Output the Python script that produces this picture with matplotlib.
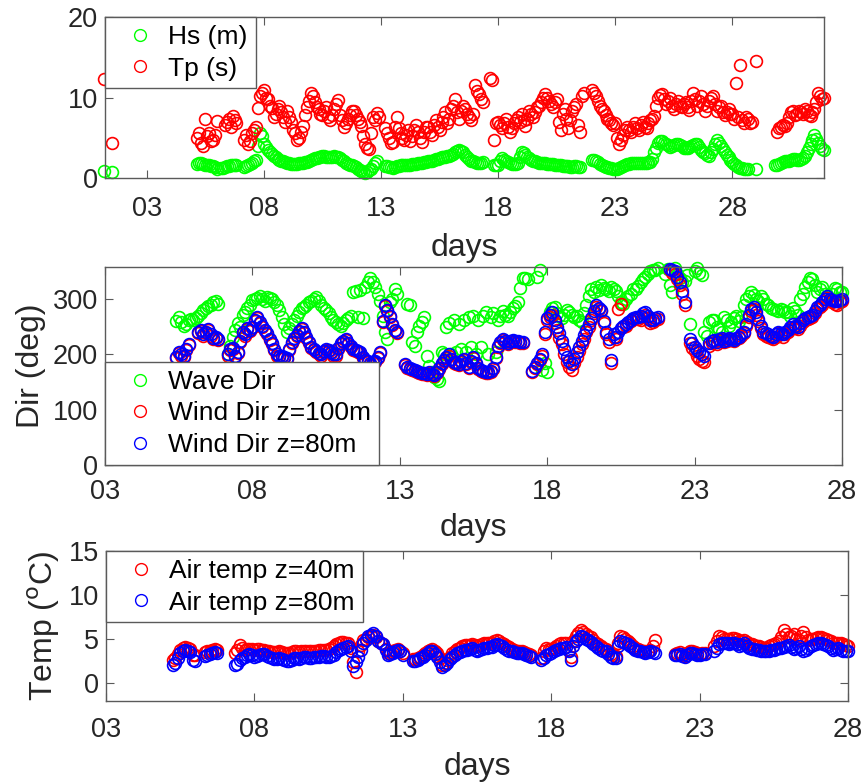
import numpy as np
import matplotlib
matplotlib.use("Agg")
import matplotlib.pyplot as plt

nan = np.nan

# top panel: 12 samples per day (2 h), first row is day 1
hs = [
    nan, nan, 0.9, nan, nan, nan, 0.8, nan, nan, nan, nan, nan,   # 1
    nan, nan, nan, nan, nan, nan, nan, nan, nan, nan, nan, nan,   # 2
    nan, nan, nan, nan, nan, nan, nan, nan, nan, nan, nan, nan,   # 3
    nan, nan, nan, nan, nan, nan, nan, nan, nan, nan, nan, nan,   # 4
    nan, nan, 1.8, 1.9, 1.9, 1.8, 1.7, 1.6, 1.6, 1.5, 1.5, 1.4,   # 5
    1.2, nan, 1.3, 1.3, 1.4, 1.5, 1.5, 1.6, 1.6, 1.7, 1.7, nan,   # 6
    nan, nan, 1.4, 1.5, 1.6, 1.8, 1.9, 2.1, 2.3, 4.0, 5.6, 5.2,   # 7
    4.3, 3.9, 3.5, 3.2, 3.0, 2.8, 2.6, 2.4, 2.3, 2.2, 2.1, 2.0,   # 8
    1.9, 1.9, 1.8, 1.8, 1.8, 1.8, 1.9, 1.9, 1.9, 2.0, 2.0, 2.1,   # 9
    2.3, 2.4, 2.5, 2.5, 2.6, 2.7, 2.8, 2.8, 2.7, 2.6, 2.6, 2.7,   # 10
    2.8, 2.7, 2.6, 2.5, 2.3, 2.1, 1.9, 1.8, 1.7, 1.6, 1.5, 1.4,   # 11
    1.2, 1.0, 0.9, 0.8, 0.7, 0.8, 1.0, 1.2, 1.5, 1.9, 2.2, nan,   # 12
    nan, nan, 1.5, 1.5, 1.4, 1.4, 1.3, 1.4, 1.5, 1.5, 1.6, 1.6,   # 13
    1.6, 1.7, 1.7, 1.7, 1.8, 1.8, 1.8, 1.9, 1.9, 1.9, 2.0, 2.0,   # 14
    2.1, 2.1, 2.2, 2.3, 2.4, 2.4, 2.5, 2.6, 2.7, 2.7, 2.8, 2.8,   # 15
    2.9, 3.0, 3.2, 3.4, 3.5, 3.4, 3.2, 2.9, 2.6, 2.4, 2.2, 2.1,   # 16
    2.0, 1.9, 1.9, 1.9, 2.0, nan, nan, nan, nan, nan, 1.6, 1.7,   # 17
    1.7, 2.1, 2.5, 2.3, 2.1, 2.0, 1.9, 1.8, 1.8, 1.8, 1.9, 2.6,   # 18
    3.3, 3.1, 2.9, 2.7, 2.5, 2.3, 2.2, 2.1, 2.0, 1.9, 1.9, 1.9,   # 19
    1.9, 1.8, 1.8, 1.8, 1.8, 1.7, 1.7, 1.6, 1.6, 1.5, 1.5, 1.5,   # 20
    1.5, 1.4, 1.4, 1.5, 1.5, 1.4, 1.4, nan, nan, nan, nan, nan,   # 21
    2.3, 2.3, 2.2, 2.0, 1.8, 1.6, 1.5, 1.4, 1.4, 1.3, 1.3, 1.2,   # 22
    1.2, 1.2, 1.3, 1.4, 1.5, 1.7, 1.8, 1.8, 1.9, 1.9, 1.9, 1.9,   # 23
    1.9, 1.9, 1.9, 1.9, 1.9, 2.0, 2.0, 2.4, 3.2, 3.8, 4.4, 4.6,   # 24
    4.6, 4.4, 4.3, 4.1, 3.9, 4.0, 4.1, 4.2, 4.2, 4.1, 4.0, 3.8,   # 25
    3.7, 3.8, 3.9, 4.0, 4.1, 4.2, 4.3, 3.9, 3.5, 3.3, 3.1, 2.9,   # 26
    2.8, 3.2, 3.6, 4.2, 4.7, 4.4, 4.0, 3.6, 3.3, 2.9, 2.6, 2.3,   # 27
    2.0, 1.8, 1.6, 1.4, 1.3, 1.3, 1.2, 1.2, 1.2, nan, nan, nan,   # 28
    1.1, nan, nan, nan, nan, nan, nan, nan, nan, nan, 1.7, 1.7,   # 29
    1.8, 1.9, 2.0, 2.1, 2.2, 2.2, 2.3, 2.4, 2.4, 2.3, 2.3, 2.4,   # 30
    2.5, 2.8, 3.2, 3.7, 4.2, 4.8, 5.4, 4.9, 4.4, 4.0, 3.6, 3.5,   # 31
]

tp = [
    nan, nan, 12.3, nan, nan, nan, 4.4, nan, nan, nan, nan, nan,         # 1
    nan, nan, nan, nan, nan, nan, nan, nan, nan, nan, nan, nan,          # 2
    nan, nan, nan, nan, nan, nan, nan, nan, nan, nan, nan, nan,          # 3
    nan, nan, nan, nan, nan, nan, nan, nan, nan, nan, nan, nan,          # 4
    nan, nan, 5.0, 5.6, 4.4, 4.0, 7.3, 5.2, 5.6, 4.6, 4.8, 5.4,          # 5
    7.1, nan, nan, nan, 6.6, 7.0, 7.4, 6.4, 7.7, 7.2, 6.9, nan,          # 6
    nan, nan, 4.8, 5.4, 4.2, 4.6, 5.6, 6.0, 6.3, 8.7, 10.2, 10.6,        # 7
    10.9, 10.0, 9.8, 9.0, 8.7, 7.6, 8.0, 8.6, 9.0, 8.2, 7.6, 7.0,        # 8
    8.4, 7.6, 7.0, 6.0, 5.6, 4.8, 5.0, 5.8, 6.5, 7.8, 8.8, 9.6,          # 9
    10.6, 10.2, 9.4, 8.8, 8.6, 8.0, 7.8, 8.4, 8.8, 7.6, 7.2, 7.8,        # 10
    8.6, 9.2, 9.7, 7.8, 7.2, 6.4, 6.8, 7.4, 7.9, 8.4, 8.3, 7.8,          # 11
    7.4, 7.0, 6.5, 5.2, 4.2, 3.8, 3.6, 5.6, 7.6, 7.2, 8.1, 7.6,          # 12
    nan, nan, 6.2, 5.6, 5.0, 4.4, 4.5, 6.4, 7.6, 6.2, 5.6, 5.0,          # 13
    4.8, 5.4, 6.0, 4.6, 5.2, 6.0, 6.6, 5.8, 5.0, 4.5, 5.8, 6.4,          # 14
    6.4, 5.8, 5.4, 6.6, 7.2, 6.4, 6.0, 7.0, 7.6, 8.2, 6.8, 7.4,          # 15
    8.6, 9.0, 9.8, 8.2, 7.4, 8.4, 9.0, 8.6, 8.0, 7.6, 7.2, 8.0,          # 16
    11.6, 10.8, 10.4, 9.8, 9.4, nan, nan, nan, 12.4, 12.2, 4.8, 6.8,     # 17
    7.0, 6.6, 6.2, 6.9, 7.3, 6.4, 5.8, 6.2, 6.8, 7.2, 7.6, 7.0,          # 18
    8.0, 7.2, 6.5, 7.4, 8.3, 8.0, 7.6, 8.2, 8.8, 9.0, 9.4, 10.0,         # 19
    10.4, 10.0, 9.6, 9.2, 8.9, 9.4, 9.8, 7.0, 6.0, 8.0, 8.6, 7.4,        # 20
    6.2, 7.2, 8.4, 8.8, 9.2, 6.6, 5.8, 10.2, 10.6, nan, nan, nan,        # 21
    11.0, 10.6, 10.2, 9.6, 9.0, 8.6, 8.4, 7.8, 7.4, 7.2, 6.8, 6.6,       # 22
    6.9, 5.0, 4.2, 4.8, 5.4, 6.0, 6.4, 6.0, 5.8, 6.4, 6.8, 6.2,          # 23
    6.0, 6.6, 7.0, 6.4, 6.2, 6.8, 7.2, 7.4, 7.7, 9.0, 10.0, 10.3,        # 24
    10.4, 9.8, 9.2, 9.6, 10.0, 9.0, 8.6, 9.2, 9.6, 9.0, 8.8, 9.2,        # 25
    9.4, 8.9, 8.5, 9.6, 10.6, 9.8, 9.0, 9.6, 10.2, 9.2, 8.4, 9.0,        # 26
    9.6, 10.0, 10.2, 9.2, 8.4, 8.8, 9.0, 8.2, 7.8, 8.2, 8.6, 8.0,        # 27
    8.0, 7.4, 11.8, 7.6, 14.1, 7.2, 6.9, 7.6, 7.4, 6.8, 7.0, nan,        # 28
    14.6, nan, nan, nan, nan, nan, nan, nan, nan, nan, nan, 5.8,         # 29
    6.2, 6.4, 6.6, 6.5, 6.9, 7.6, 8.2, 8.4, 7.8, 8.0, 8.4, 8.2,          # 30
    8.0, 8.6, 8.4, 7.9, 7.7, 8.2, 8.6, 9.4, 10.6, 10.2, 9.8, 10.0,       # 31
]

# middle and bottom panels: 12 samples per day, first row is day 3
wave_dir = [
    nan, nan, nan, nan, nan, nan, nan, nan, nan, nan, nan, nan,   # 3
    nan, nan, nan, nan, nan, nan, nan, nan, nan, nan, nan, nan,   # 4
    nan, nan, nan, nan, nan, 260, 267, 258, 252, 255, 262, 264,   # 5
    262, 266, 270, 275, 280, 284, 287, 290, 294, 296, 292, nan,   # 6
    nan, nan, 200, 215, 231, 245, 256, 250, 272, 276, 283, 290,   # 7
    298, 300, 302, 305, 300, 296, 304, 302, 300, 294, 289, 280,   # 8
    268, 255, 240, 248, 255, 262, 270, 276, 283, 286, 290, 294,   # 9
    297, 301, 304, 296, 289, 284, 280, 274, 268, 262, 258, 255,   # 10
    252, 257, 262, 266, 270, 313, 314, 268, 316, 265, 322, 330,   # 11
    338, 330, 322, 310, 296, 270, 240, 228, 295, 300, 319, 310,   # 12
    nan, nan, nan, 292, 290, 222, 216, 240, 252, 258, 267, 197,   # 13
    179, 168, 160, 155, 152, 205, 200, 250, 256, 200, 262, 204,   # 14
    255, 210, 262, 205, 268, 214, 270, 200, 262, 214, 270, 276,   # 15
    200, 268, 275, 205, 262, 270, 278, 272, 270, 276, 283, 288,   # 16
    295, 320, 338, 338, 336, nan, nan, nan, 340, 353, 172, 185,   # 17
    168, 276, 284, 286, 275, 270, 266, 272, 280, 276, 272, 268,   # 18
    270, 262, 258, 275, 290, 305, 318, 313, 322, 316, 325, 320,   # 19
    318, 314, 322, 318, 315, 305, 295, 292, 300, 305, 310, 318,   # 20
    318, 324, 330, 336, 340, 346, 350, 352, 353, 356, nan, nan,   # 21
    345, 355, 325, 313, 356, 345, 338, 331, 333, 344, 255, nan,   # 22
    350, 356, 347, 344, 240, 234, 258, 262, 262, 250, 246, 240,   # 23
    268, 262, 252, 258, 265, 270, 260, 268, 290, 300, 305, 313,   # 24
    307, 300, 296, 305, 300, 292, 290, 284, 282, 280, 278, 282,   # 25
    280, 276, 276, 270, 283, 278, 272, 300, 310, 322, 330, 338,   # 26
    336, 326, 312, 318, 322, 310, 305, 300, 310, 320, 318, 312,   # 27
    312,                                                          # 28
]

wind_dir_100 = [
    nan, nan, nan, nan, nan, nan, nan, nan, nan, nan, nan, nan,   # 3
    nan, nan, nan, nan, nan, nan, nan, nan, nan, nan, nan, nan,   # 4
    nan, nan, nan, nan, nan, 194, 202, 198, 196, 208, 217, nan,   # 5
    nan, nan, 238, 242, 234, 238, 244, 234, 228, 230, 226, nan,   # 6
    nan, nan, 198, 208, 210, 196, 203, 223, 238, 234, 246, 242,   # 7
    248, 260, 265, 256, 250, 242, 236, 226, 218, 208, 198, 196,   # 8
    195, 193, 192, 208, 220, 228, 233, 240, 246, 238, 230, 220,   # 9
    212, 208, 204, 200, 198, 204, 208, 206, 202, 198, 198, 210,   # 10
    218, 222, 226, 218, 213, 208, 206, 204, 203, 194, 188, 186,   # 11
    183, 184, 186, 194, 203, 258, 287, 278, 268, 253, 243, 238,   # 12
    nan, nan, 180, 176, 173, 172, 170, 168, 166, 165, 164, 163,   # 13
    166, 163, 161, 166, 173, 182, 188, 194, 198, 190, 184, 182,   # 14
    180, 186, 190, 182, 176, 186, 194, 182, 173, 170, 168, 166,   # 15
    166, 168, 173, 194, 213, 220, 226, 222, 218, 222, 224, 222,   # 16
    223, 220, 220, nan, nan, nan, 168, 176, 183, 190, 198, 236,   # 17
    262, 268, 272, 256, 244, 230, 218, 200, 186, 178, 172, 184,   # 18
    196, 206, 218, 228, 240, 250, 262, 275, 286, 282, 278, 256,   # 19
    236, 222, 185, 232, 228, 282, 292, 250, 252, 256, 260, 264,   # 20
    266, 264, 262, 268, 272, 266, 256, 258, 262, 264, nan, nan,   # 21
    nan, nan, 352, 348, 345, 336, 326, 310, 290, nan, 220, 212,   # 22
    206, 198, 192, 188, 186, nan, 216, 220, 222, 218, 226, 228,   # 23
    222, 224, 228, 226, 224, 228, 230, 234, 238, 252, 268, 278,   # 24
    282, 272, 260, 248, 236, 234, 232, 230, 228, 232, 238, 236,   # 25
    232, 236, 240, 246, 250, 248, 246, 252, 258, 262, 264, 266,   # 26
    268, 274, 282, 286, 290, 296, 302, 296, 294, 292, 290, 294,   # 27
    296,                                                          # 28
]

wind_dir_80 = [
    nan, nan, nan, nan, nan, nan, nan, nan, nan, nan, nan, nan,   # 3
    nan, nan, nan, nan, nan, nan, nan, nan, nan, nan, nan, nan,   # 4
    nan, nan, nan, nan, nan, 196, 204, 200, 198, 210, 219, nan,   # 5
    nan, nan, 240, 244, 236, 240, 246, 236, 230, 232, 228, nan,   # 6
    nan, nan, 200, 210, 212, 198, 205, 225, 240, 236, 248, 244,   # 7
    250, 262, 267, 258, 252, 244, 238, 228, 220, 210, 200, 198,   # 8
    197, 195, 194, 210, 222, 230, 235, 242, 248, 240, 232, 222,   # 9
    214, 210, 206, 202, 200, 206, 210, 208, 204, 200, 200, 212,   # 10
    220, 224, 228, 220, 215, 210, 208, 206, 205, 196, 190, 188,   # 11
    185, 186, 188, 196, 205, 260, 289, 280, 270, 255, 245, 240,   # 12
    nan, nan, 182, 178, 175, 174, 172, 170, 168, 167, 166, 165,   # 13
    168, 165, 163, 168, 175, 184, 190, 196, 200, 192, 186, 184,   # 14
    182, 188, 192, 184, 178, 188, 196, 184, 175, 172, 170, 168,   # 15
    168, 170, 175, 196, 215, 222, 228, 224, 220, 224, 226, 224,   # 16
    225, 222, 222, nan, nan, nan, 170, 178, 185, 192, 200, 240,   # 17
    265, 272, 276, 262, 250, 238, 225, 210, 195, 188, 182, 192,   # 18
    204, 214, 225, 235, 245, 255, 265, 278, 289, 284, 280, 260,   # 19
    240, 228, 190, 236, 232, 240, 248, 252, 255, 258, 262, 266,   # 20
    268, 268, 270, 274, 277, 270, 262, 262, 265, 268, nan, nan,   # 21
    nan, nan, 355, 352, 350, 340, 331, 315, 295, nan, 228, 220,   # 22
    214, 208, 204, 200, 198, nan, 220, 224, 226, 222, 228, 230,   # 23
    224, 226, 230, 228, 226, 230, 232, 236, 240, 255, 272, 282,   # 24
    286, 276, 264, 252, 240, 238, 236, 234, 232, 236, 240, 238,   # 25
    236, 240, 245, 250, 255, 252, 250, 256, 262, 265, 268, 270,   # 26
    272, 278, 285, 290, 295, 300, 305, 300, 298, 296, 296, 298,   # 27
    300,                                                          # 28
]

temp_40 = [
    nan, nan, nan, nan, nan, nan, nan, nan, nan, nan, nan, nan,   # 3
    nan, nan, nan, nan, nan, nan, nan, nan, nan, nan, nan, nan,   # 4
    nan, nan, nan, 2.6, 2.8, 3.3, 3.8, 4.0, 4.1, 4.0, 3.9, 3.2,   # 5
    3.2, nan, nan, nan, 3.5, 3.6, 3.7, 3.8, 3.9, 3.8, nan, nan,   # 6
    nan, nan, nan, nan, 3.4, 3.8, 4.3, 4.0, 3.8, 3.9, 3.9, 3.9,   # 7
    3.8, 3.9, 3.9, 3.8, 3.8, 3.7, 3.6, 3.5, 3.5, 3.5, 3.6, 3.5,   # 8
    3.4, 3.4, 3.4, 3.5, 3.6, 3.6, 3.5, 3.6, 3.7, 3.7, 3.6, 3.6,   # 9
    3.7, 3.7, 3.8, 3.8, 3.8, 3.8, 3.9, 4.0, 4.2, 4.4, 4.6, 4.7,   # 10
    4.7, 4.6, 4.5, 4.0, 2.4, 1.3, 3.6, 4.3, 4.9, 5.0, 5.2, 5.4,   # 11
    5.5, 5.2, 4.8, 4.6, 4.4, 3.9, 3.4, 3.5, 3.6, 3.8, 3.9, 3.7,   # 12
    3.4, nan, nan, nan, 2.7, 2.7, 2.8, 3.0, 3.2, 3.4, 3.6, 3.8,   # 13
    3.9, 3.7, 3.4, 2.8, 2.1, 2.3, 2.6, 3.0, 3.4, 3.7, 3.9, 4.0,   # 14
    4.2, 4.3, 4.3, 4.3, 4.4, 4.3, 4.2, 4.3, 4.4, 4.5, 4.5, 4.6,   # 15
    4.6, 4.8, 4.9, 4.8, 4.6, 4.4, 4.2, 4.1, 3.9, 3.8, 3.6, 3.6,   # 16
    3.6, 3.5, 3.4, 3.3, 3.2, nan, nan, nan, 2.9, 3.6, 4.0, 3.9,   # 17
    3.9, 4.0, 4.2, 4.4, 4.5, 4.5, 4.5, 3.8, 3.0, 4.8, 5.4, 5.7,   # 18
    6.0, 5.8, 5.6, 5.4, 5.2, 4.9, 4.6, 4.4, 4.2, 4.0, 3.9, 3.6,   # 19
    3.3, 3.2, 3.1, 4.6, 5.3, 5.2, 5.0, 4.8, 4.6, 4.2, 4.0, 3.9,   # 20
    3.8, 3.7, 3.6, 3.7, 3.8, 4.2, 4.9, nan, nan, nan, nan, nan,   # 21
    nan, nan, 3.3, 3.4, 3.5, 3.3, 3.1, 3.4, 3.6, 3.6, 3.5, 3.4,   # 22
    3.3, 3.4, 3.4, nan, nan, nan, 4.2, 4.8, 5.3, 5.2, 5.0, 5.0,   # 23
    5.0, 5.1, 5.1, 5.0, 4.8, 4.8, 4.9, 4.7, 4.4, 4.4, 4.3, 4.2,   # 24
    4.2, 4.1, 4.0, 4.0, 4.2, 4.3, 4.4, 4.6, 4.8, 5.2, 6.0, 5.6,   # 25
    5.2, 5.4, 5.6, 5.0, 4.9, 5.4, 5.8, 5.2, 4.9, 5.0, 5.0, 5.1,   # 26
    5.2, 5.2, 5.1, 5.0, 4.9, 4.8, 4.6, 4.6, 4.6, 4.5, 4.4, 4.3,   # 27
    4.2,                                                          # 28
]

temp_80 = [
    nan, nan, nan, nan, nan, nan, nan, nan, nan, nan, nan, nan,   # 3
    nan, nan, nan, nan, nan, nan, nan, nan, nan, nan, nan, nan,   # 4
    nan, nan, nan, 2.1, 2.3, 2.8, 3.4, 3.6, 3.8, 3.7, 3.5, 2.6,   # 5
    2.5, nan, nan, nan, 3.1, 3.2, 3.3, 3.4, 3.5, 3.4, nan, nan,   # 6
    nan, nan, nan, nan, 2.0, 2.2, 2.6, 2.8, 3.0, 3.2, 3.3, 3.2,   # 7
    3.0, 3.1, 3.2, 3.3, 3.3, 3.1, 3.0, 2.8, 2.7, 2.7, 2.8, 2.7,   # 8
    2.6, 2.5, 2.5, 2.6, 2.8, 2.8, 2.7, 2.8, 3.0, 3.0, 2.9, 2.9,   # 9
    3.0, 3.0, 3.0, 3.1, 3.1, 3.0, 3.0, 3.1, 3.2, 3.5, 3.8, 3.9,   # 10
    4.0, 4.1, 4.2, 3.6, 1.9, 2.4, 3.0, 3.8, 4.5, 4.9, 5.3, 5.5,   # 11
    5.7, 5.3, 4.8, 4.6, 4.4, 3.8, 3.2, 3.3, 3.4, 3.6, 3.8, 3.6,   # 12
    3.2, nan, nan, nan, 2.5, 2.5, 2.6, 2.8, 3.0, 3.2, 3.4, 3.6,   # 13
    3.6, 3.3, 3.0, 2.4, 1.8, 2.0, 2.3, 2.7, 3.0, 3.2, 3.4, 3.5,   # 14
    3.7, 3.8, 3.8, 3.9, 4.0, 3.8, 3.7, 3.8, 3.9, 4.0, 4.0, 4.1,   # 15
    4.1, 4.3, 4.4, 4.3, 4.2, 4.0, 3.8, 3.7, 3.6, 3.5, 3.4, 3.4,   # 16
    3.4, 3.3, 3.2, 3.1, 3.0, nan, nan, nan, 2.6, 2.8, 3.2, 3.3,   # 17
    3.4, 3.6, 3.8, 3.9, 4.0, 4.0, 4.1, 3.6, 2.6, 4.2, 4.8, 5.0,   # 18
    5.3, 5.2, 5.0, 4.9, 4.7, 4.4, 4.2, 4.0, 3.8, 3.7, 3.6, 3.3,   # 19
    3.0, 2.9, 2.8, 4.2, 4.8, 4.7, 4.6, 4.4, 4.2, 4.0, 3.8, 3.7,   # 20
    3.6, 3.5, 3.4, 3.5, 3.6, 3.5, 3.4, nan, nan, nan, nan, nan,   # 21
    nan, nan, 3.2, 3.2, 3.3, 3.1, 3.0, 3.2, 3.4, 3.4, 3.3, 3.2,   # 22
    3.2, 3.3, 3.3, nan, nan, nan, 3.6, 4.0, 4.4, 4.5, 4.6, 4.5,   # 23
    4.4, 4.5, 4.6, 4.4, 4.2, 4.3, 4.5, 4.2, 4.0, 3.9, 3.9, 3.8,   # 24
    3.8, 3.7, 3.6, 3.6, 3.7, 3.8, 3.8, 3.9, 4.0, 4.0, 4.1, 4.2,   # 25
    4.3, 4.1, 3.9, 4.0, 4.2, 3.9, 3.6, 3.8, 4.0, 4.2, 4.3, 4.4,   # 26
    4.5, 4.5, 4.4, 4.3, 4.2, 4.0, 3.8, 3.9, 4.0, 3.8, 3.7, 3.6,   # 27
    3.6,                                                          # 28
]

day_ticks = [3, 8, 13, 18, 23, 28]
day_labels = ["03", "08", "13", "18", "23", "28"]

t_top = 1 + np.arange(len(hs)) / 12
t_mid = 3 + np.arange(len(wave_dir)) / 12

plt.rcParams['font.family'] = ['Liberation Sans', 'DejaVu Sans']
txt = '#262626'
edge = '#5a5a5a'
ms = 8.5
mw = 1.2

fig = plt.figure(figsize=(8.64, 7.83), dpi=100)
ax1 = fig.add_axes([0.1215, 0.7723, 0.832, 0.2060])
ax2 = fig.add_axes([0.1215, 0.4061, 0.853, 0.2529])
ax3 = fig.add_axes([0.1227, 0.1051, 0.8588, 0.1912])


def circles(ax, x, y, color, label):
    # markers are not clipped at the axes edge, as in the original
    ax.plot(x, y, 'o', linestyle='none', ms=ms, mfc='none', mec=color, mew=mw,
            label=label, clip_on=False)


circles(ax1, t_top, hs, (0, 1, 0), 'Hs (m)')
circles(ax1, t_top, tp, (1, 0, 0), 'Tp (s)')
ax1.set_xlim(1.22, 31.9)
ax1.set_ylim(0, 20)
ax1.set_yticks([0, 10, 20])

circles(ax2, t_mid, wave_dir, (0, 1, 0), 'Wave Dir')
circles(ax2, t_mid, wind_dir_100, (1, 0, 0), 'Wind Dir z=100m')
circles(ax2, t_mid, wind_dir_80, (0, 0, 1), 'Wind Dir z=80m')
ax2.set_xlim(3, 28)
ax2.set_ylim(0, 358)
ax2.set_yticks([0, 100, 200, 300])
ax2.set_ylabel('Dir (deg)', fontsize=23, color=txt, labelpad=5)

circles(ax3, t_mid, temp_40, (1, 0, 0), 'Air temp z=40m')
circles(ax3, t_mid, temp_80, (0, 0, 1), 'Air temp z=80m')
ax3.set_xlim(3, 28)
ax3.set_ylim(-2, 15)
ax3.set_yticks([0, 5, 10, 15])
ax3.set_ylabel('Temp ($^{\\rm o}$C)', fontsize=23, color=txt, labelpad=5)

# x tick label pad and xlabel pad differ a little per panel in the original
for ax, xpad, lpad in ((ax1, 13, 7.5), (ax2, 10, 6), (ax3, 12, 6.5)):
    ax.set_xticks(day_ticks)
    ax.set_xticklabels(day_labels)
    ax.set_xlabel('days', fontsize=23, color=txt, labelpad=lpad)
    ax.tick_params(direction='in', top=True, right=True, length=6, width=0.8,
                   colors=edge, labelcolor=txt, labelsize=19.5)
    ax.tick_params(axis='x', pad=xpad)
    ax.tick_params(axis='y', pad=5)
    for s in ax.spines.values():
        s.set_color(edge)
        s.set_linewidth(1.0)

legend_kw = dict(fontsize=19, fancybox=False, framealpha=1, edgecolor=edge,
                 borderaxespad=0, borderpad=0.3, labelspacing=0.29,
                 handlelength=2.05, handletextpad=0.05)
lg1 = ax1.legend(loc='upper left', **legend_kw)
lg2 = ax2.legend(loc='lower left', **legend_kw)
lg3 = ax3.legend(loc='upper left', **legend_kw)
for lg in (lg1, lg2, lg3):
    lg.get_frame().set_linewidth(1.0)
    for h in lg.legend_handles:
        h.set_markeredgewidth(1.0)
    for t in lg.get_texts():
        t.set_color('black')

fig.savefig('out.png', dpi=100)
